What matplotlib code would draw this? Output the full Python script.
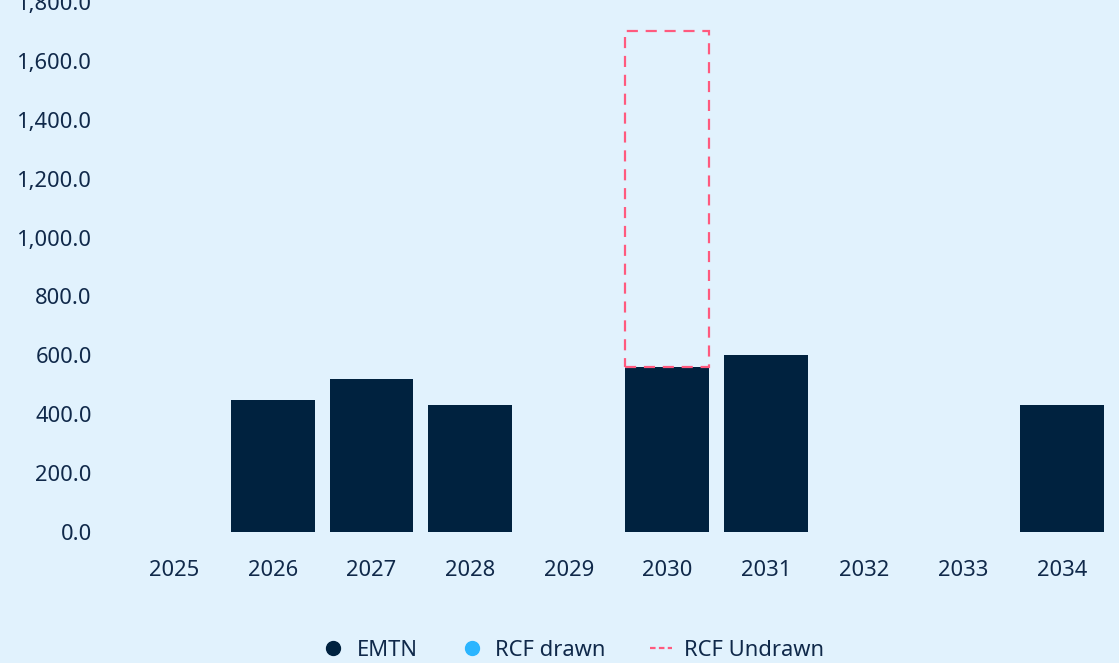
import numpy as np
import matplotlib.pyplot as plt
from matplotlib.lines import Line2D

# Data
years = ['2025', '2026', '2027', '2028', '2029', '2030', '2031', '2032', '2033', '2034']
emtn = [0, 450, 520, 430, 0, 560, 600, 0, 0, 430]
rcf_drawn = [0, 0, 0, 0, 0, 0, 0, 0, 0, 0]
rcf_undrawn = [0, 0, 0, 0, 0, 1140, 0, 0, 0, 0]
yticks = [0, 200, 400, 600, 800, 1000, 1200, 1400, 1600, 1800]

bg = '#E1F2FD'
navy = '#00223F'
light_blue = '#2BB5FF'
pink = '#FF5A7E'
text_col = '#10294A'

plt.rcParams['font.family'] = ['Noto Sans', 'DejaVu Sans']

fig = plt.figure(figsize=(11.19, 6.63), dpi=100, facecolor=bg)
ax = fig.add_axes([125 / 1119, 131 / 663, (1111 - 125) / 1119, (661 - 131) / 663])
ax.set_facecolor(bg)

x = np.arange(len(years))
w = 0.85
ax.bar(x, emtn, width=w, color=navy, zorder=2)
ax.bar(x, rcf_drawn, width=w, bottom=emtn, color=light_blue, zorder=2)
base = np.array(emtn) + np.array(rcf_drawn)
for xi, b, u in zip(x, base, rcf_undrawn):
    if u > 0:
        ax.bar(xi, u, width=w, bottom=b, facecolor='none', edgecolor=pink,
               linewidth=1.6, linestyle=(0, (5, 3.5)), zorder=3)

ax.set_xlim(-0.5, len(years) - 0.5)
ax.set_ylim(0, 1800)
ax.set_yticks(yticks)
ax.set_yticklabels([f'{v:,.1f}' for v in yticks])
ax.set_xticks(x)
ax.set_xticklabels(years)
ax.tick_params(axis='both', length=0, labelsize=15.8, colors=text_col)
ax.tick_params(axis='y', pad=24)
ax.tick_params(axis='x', pad=20)
for s in ax.spines.values():
    s.set_visible(False)

handles = [
    Line2D([], [], marker='o', linestyle='none', color=navy, markersize=10),
    Line2D([], [], marker='o', linestyle='none', color=light_blue, markersize=10),
    Line2D([], [], color=pink, linewidth=1.6, linestyle=(0, (2.5, 1.5))),
]
leg = fig.legend(handles, ['EMTN', 'RCF drawn', 'RCF Undrawn'], loc='center',
                 bbox_to_anchor=(573 / 1119, 1 - 650 / 663), ncol=3, frameon=False,
                 fontsize=15.8, handlelength=1.0, handletextpad=0.55, columnspacing=2.0)
for t in leg.get_texts():
    t.set_color(text_col)

fig.savefig('out.png', dpi=100, facecolor=bg)
